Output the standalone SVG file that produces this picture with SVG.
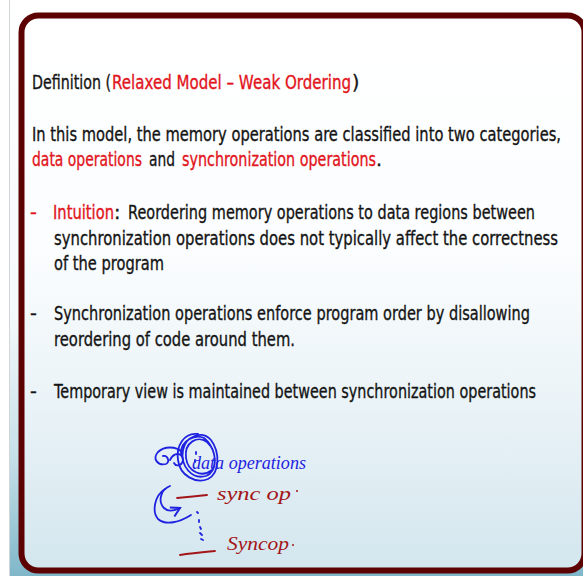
<svg xmlns="http://www.w3.org/2000/svg" width="583" height="576" viewBox="0 0 583 576">
  <defs>
    <linearGradient id="panelFill" x1="0" y1="0" x2="0" y2="1">
      <stop offset="0" stop-color="#ffffff"/>
      <stop offset="0.42" stop-color="#fbfdfe"/>
      <stop offset="0.7" stop-color="#eaf3f7"/>
      <stop offset="1" stop-color="#d3e6ee"/>
    </linearGradient>
    <linearGradient id="outerFill" x1="0" y1="0" x2="0" y2="1">
      <stop offset="0" stop-color="#ffffff"/>
      <stop offset="0.55" stop-color="#f4f9fb"/>
      <stop offset="0.8" stop-color="#c4dfe8"/>
      <stop offset="1" stop-color="#7fb7c9"/>
    </linearGradient>
    <marker id="inkHead" viewBox="0 0 10 10" refX="8" refY="5" markerWidth="7" markerHeight="7" orient="auto">
      <path d="M1,1 L8,5 L1,9" fill="none" stroke="#1f22e0" stroke-width="1.6"/>
    </marker>
    <style>
      .body { font-family: "DejaVu Sans", "Liberation Sans", sans-serif; font-size: 19px; fill: #141414; stroke: #141414; stroke-width: 0.35; }
      .hl { fill: #e2141c; stroke: #e2141c; }
      .blueInk { fill: none; stroke: #1f22e0; stroke-width: 1.8; stroke-linecap: round; stroke-linejoin: round; }
      .redInk { fill: none; stroke: #a3161a; stroke-width: 1.8; stroke-linecap: round; }
      .hand { font-family: "Liberation Serif", "DejaVu Serif", serif; font-style: italic; }
    </style>
  </defs>

  <!-- page background and left edge -->
  <rect x="0" y="0" width="583" height="576" fill="#ffffff"/>
  <rect x="10" y="0" width="573" height="576" fill="url(#outerFill)"/>
  <line x1="9.5" y1="0" x2="9.5" y2="576" stroke="#d2d6d8" stroke-width="1"/>

  <!-- slide panel -->
  <g id="panel">
    <rect x="21.5" y="15.5" width="563" height="555" rx="17" fill="url(#panelFill)" stroke="#5c0202" stroke-width="6"/>
  </g>

  <!-- slide text -->
  <g id="title">
    <text class="body" x="32" y="89" textLength="79" lengthAdjust="spacingAndGlyphs">Definition (</text>
    <text class="body hl" x="112" y="89" textLength="239" lengthAdjust="spacingAndGlyphs">Relaxed Model – Weak Ordering</text>
    <text class="body" x="352" y="89">)</text>
  </g>
  <g id="intro">
    <text class="body" x="32" y="141" textLength="529" lengthAdjust="spacingAndGlyphs">In this model, the memory operations are classified into two categories,</text>
    <text class="body hl" x="32" y="166" textLength="110" lengthAdjust="spacingAndGlyphs">data operations</text>
    <text class="body" x="149" y="166" textLength="26" lengthAdjust="spacingAndGlyphs">and</text>
    <text class="body hl" x="182" y="166" textLength="194" lengthAdjust="spacingAndGlyphs">synchronization operations</text>
    <text class="body" x="376" y="166">.</text>
  </g>
  <g id="bullet-intuition">
    <text class="body hl" x="30" y="219">-</text>
    <text class="body hl" x="53" y="219" textLength="61" lengthAdjust="spacingAndGlyphs">Intuition</text>
    <text class="body" x="114" y="219">:</text>
    <text class="body" x="128" y="219" textLength="407" lengthAdjust="spacingAndGlyphs">Reordering memory operations to data regions between</text>
    <text class="body" x="54" y="245" textLength="504" lengthAdjust="spacingAndGlyphs">synchronization operations does not typically affect the correctness</text>
    <text class="body" x="54" y="270" textLength="110" lengthAdjust="spacingAndGlyphs">of the program</text>
  </g>
  <g id="bullet-sync">
    <text class="body" x="30" y="320">-</text>
    <text class="body" x="54" y="320" textLength="476" lengthAdjust="spacingAndGlyphs">Synchronization operations enforce program order by disallowing</text>
    <text class="body" x="54" y="346" textLength="241" lengthAdjust="spacingAndGlyphs">reordering of code around them.</text>
  </g>
  <g id="bullet-view">
    <text class="body" x="30" y="398">-</text>
    <text class="body" x="54" y="398" textLength="482" lengthAdjust="spacingAndGlyphs">Temporary view is maintained between synchronization operations</text>
  </g>

  <!-- pen annotations -->
  <g id="ink-data">
    <path class="blueInk" d="M198,434 C184,432 176,446 178,460 C180,476 196,484 208,479 C220,473 220,452 211,440 C202,430 186,436 183,450 C180,466 192,480 206,476 C217,472 218,452 207,442 C198,435 184,442 186,458 C188,472 202,478 212,470 C218,462 214,446 204,438 C196,434 180,440 181,454"/>
    <path class="blueInk" d="M182,452 C176,446 164,446 158,452 C152,459 158,466 166,464 C170,462 168,455 163,456 M170,460 C174,452 182,452 183,460 C182,466 176,467 174,463"/>
    <path class="blueInk" d="M196,452 L196,454 M195,460 L195,462" stroke-width="2.2"/>
    <text class="hand" x="192" y="469" font-size="18" fill="#1f22e0" textLength="114" lengthAdjust="spacingAndGlyphs">data operations</text>
  </g>
  <g id="ink-arrows">
    <path class="blueInk" d="M170,486 C160,490 158,502 164,508 C168,512 174,511 180,508" marker-end="url(#inkHead)"/>
    <path class="blueInk" d="M165,489 C154,496 152,512 158,519 C166,526 180,522 191,515"/>
  </g>
  <g id="ink-sync1">
    <path class="redInk" d="M177,498 C188,497 198,496 207,495"/>
    <text class="hand" x="217" y="500" font-size="19" fill="#a3161a" textLength="74" lengthAdjust="spacingAndGlyphs">sync op</text>
    <circle cx="297" cy="491" r="1" fill="#a3161a"/>
  </g>
  <g id="ink-dots">
    <path class="blueInk" d="M197,512 L198,513 M199,520 L199,522 M200,527 L201,529 M200,533 L202,535 M201,539 L203,540" stroke-width="1.6"/>
  </g>
  <g id="ink-sync2">
    <path class="redInk" d="M180,555 C192,553 204,552 215,551"/>
    <text class="hand" x="227" y="550" font-size="19" fill="#a3161a" textLength="62" lengthAdjust="spacingAndGlyphs">Syncop</text>
    <circle cx="293" cy="545" r="1" fill="#a3161a"/>
  </g>
</svg>
